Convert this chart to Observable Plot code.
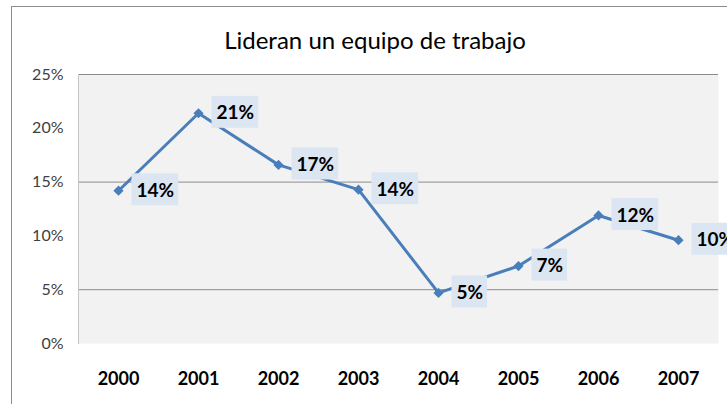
<!DOCTYPE html>
<html>
<head>
<meta charset="utf-8">
<script src="https://cdn.jsdelivr.net/npm/d3@7"></script>
<script src="https://cdn.jsdelivr.net/npm/@observablehq/plot@0.6"></script>
<style>
  html, body { margin: 0; padding: 0; background: #fff; overflow: hidden; }
  #wrap { position: relative; width: 727px; height: 404px; font-family: Lato, "Open Sans", sans-serif; }
  #title { position: absolute; left: 0; top: 0; width: 750px; height: 60px; box-sizing: border-box;
           padding-top: 28px; line-height: 24px; font-size: 24px; text-align: center; color: #000; }
  #chart { position: absolute; left: 0; top: 60px; }
  #border { position: absolute; left: 11px; top: 6px; width: 800px; height: 500px;
            border: 1px solid #8c8c8c; z-index: 2; pointer-events: none; }
</style>
</head>
<body>
<div id="wrap">
  <div id="title">Lideran un equipo de trabajo</div>
  <div id="chart"></div>
  <div id="border"></div>
</div>
<script>
const years = ["2000", "2001", "2002", "2003", "2004", "2005", "2006", "2007"];
const values = [0.142, 0.214, 0.166, 0.143, 0.047, 0.072, 0.119, 0.096];
const labels = ["14%", "21%", "17%", "14%", "5%", "7%", "12%", "10%"];
const yTicks = [0, 0.05, 0.10, 0.15, 0.20, 0.25];
const gridTicks = [0.05, 0.15, 0.25];

const data = years.map((year, i) => ({year, value: values[i], label: labels[i]}));

const blue = "#4a7ebb";

const plot = Plot.plot({
  width: 727,
  height: 344,
  marginLeft: 78,
  marginRight: 9,
  marginTop: 14,
  marginBottom: 61,
  style: {fontFamily: "Lato, 'Open Sans', sans-serif", background: "transparent", overflow: "visible"},
  x: {type: "point", domain: years, padding: 0.5},
  y: {domain: [0, 0.25]},
  marks: [
    Plot.frame({fill: "#f2f2f2", stroke: null}),
    Plot.ruleY(gridTicks, {stroke: "#8c8c8c", strokeWidth: 1}),
    Plot.frame({anchor: "left", stroke: "#c4c4c4"}),
    Plot.axisY({ticks: yTicks, tickFormat: d3.format(".0%"), tickSize: 0, tickPadding: 15,
                fontSize: 16, fill: "#404040", label: null}),
    Plot.axisX({tickSize: 0, tickPadding: 29, fontSize: 18, fontWeight: "bold", fill: "#000", label: null}),
    Plot.line(data, {x: "year", y: "value", stroke: blue, strokeWidth: 3}),
    Plot.dot(data, {x: "year", y: "value", symbol: "diamond2", r: 4.6, fill: blue, stroke: null}),
    Plot.text(data, {x: "year", y: "value", text: "label", dx: 18, textAnchor: "start",
                     fontSize: 19, fontWeight: "bold", fill: "#000", ariaLabel: () => "data-label"})
  ]
});

document.getElementById("chart").appendChild(plot);

// draw label boxes behind the data labels
d3.select(plot).selectAll('text[aria-label="data-label"]').each(function () {
  const b = this.getBBox();
  const cy = b.y + b.height / 2;
  const r = document.createElementNS("http://www.w3.org/2000/svg", "rect");
  r.setAttribute("x", b.x - 5);
  r.setAttribute("y", cy - 16);
  r.setAttribute("width", b.width + 9);
  r.setAttribute("height", 32);
  r.setAttribute("fill", "#dce6f2");
  if (this.getAttribute("transform")) r.setAttribute("transform", this.getAttribute("transform"));
  this.parentNode.insertBefore(r, this);
});
</script>
</body>
</html>
